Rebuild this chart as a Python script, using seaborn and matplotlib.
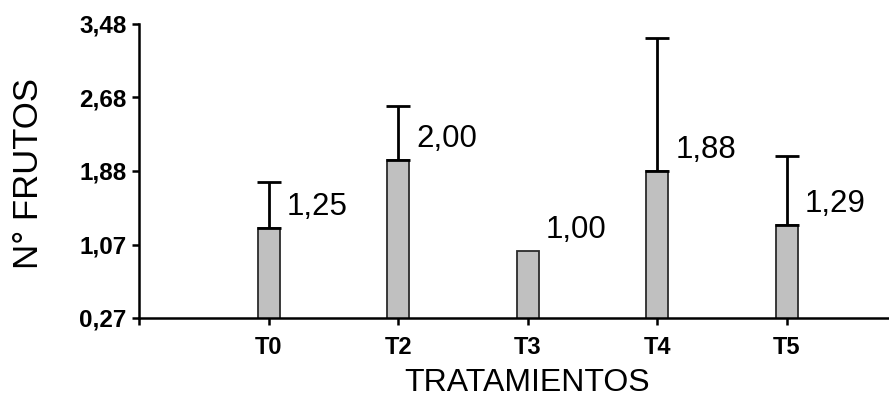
import matplotlib
matplotlib.use("Agg")
import matplotlib.pyplot as plt
import seaborn as sns
import numpy as np
import pandas as pd

# Data: mean number of fruits per treatment and the upper error extent
tratamientos = ["T0", "T2", "T3", "T4", "T5"]
frutos = [1.25, 2.00, 1.00, 1.88, 1.29]
error_sup = [0.50, 0.59, 0.0, 1.45, 0.75]
etiquetas = ["1,25", "2,00", "1,00", "1,88", "1,29"]
yticks = [0.27, 1.07, 1.88, 2.68, 3.48]
ytick_labels = ["0,27", "1,07", "1,88", "2,68", "3,48"]

sns.set_theme(style="ticks")
plt.rcParams["font.family"] = ["Liberation Sans", "DejaVu Sans"]

df = pd.DataFrame({"tratamiento": tratamientos, "frutos": frutos})

fig = plt.figure(figsize=(8.89, 3.99), dpi=100)
ax = fig.add_axes([139 / 889, 81 / 399, 750 / 889, 294 / 399])

sns.barplot(data=df, x="tratamiento", y="frutos", ax=ax, width=0.17,
            color="#c0c0c0", edgecolor="#2b2b2b", linewidth=1.3,
            saturation=1, errorbar=None)
for p in ax.patches:
    p.set_facecolor("#c0c0c0")

# upper-only error bars (T3 has none)
xs = np.arange(len(tratamientos))
mask = np.array(error_sup) > 0
ax.errorbar(xs[mask], np.array(frutos)[mask],
            yerr=[np.zeros(mask.sum()), np.array(error_sup)[mask]],
            fmt="none", ecolor="black", elinewidth=2.0, capsize=8.6,
            capthick=2.0, zorder=1)

# value labels to the right of each bar
for i, (v, t) in enumerate(zip(frutos, etiquetas)):
    ax.annotate(t, xy=(i, v), xytext=(13, 15), textcoords="offset points",
                ha="left", va="center", fontsize=22.5, color="black")

ax.set_xlim(-1.0, 4.79)
ax.set_ylim(0.27, 3.48)
ax.set_yticks(yticks)
ax.set_yticklabels(ytick_labels, fontsize=17.5, fontweight="bold")
ax.set_xticks(xs)
ax.set_xticklabels(tratamientos, fontsize=17, fontweight="bold")
ax.set_xticks([-1.0], minor=True)

ax.tick_params(axis="both", which="both", direction="out", length=5,
               width=1.8, color="black", labelcolor="black")
ax.tick_params(axis="x", pad=8)
ax.tick_params(axis="y", pad=4)

for side in ["left", "bottom"]:
    ax.spines[side].set_linewidth(1.8)
    ax.spines[side].set_color("black")
sns.despine(ax=ax)

ax.set_ylabel("N° FRUTOS", fontsize=25, color="black")
ax.yaxis.set_label_coords(-0.125, 0.49)
ax.set_xlabel("TRATAMIENTOS", fontsize=23, color="black")
ax.xaxis.set_label_coords(0.517, -0.222)
ax.xaxis.label.set_va("center")

fig.savefig("out.png", dpi=100)
